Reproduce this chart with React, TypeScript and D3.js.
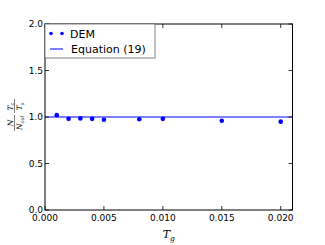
import React from "react";
import * as d3 from "d3";

const xValues = [0.001, 0.002, 0.003, 0.004, 0.005, 0.008, 0.01, 0.015, 0.02];
const demValues = [1.02, 0.98, 0.985, 0.98, 0.97, 0.975, 0.98, 0.96, 0.95];
const equationValue = 1.0;
const xTicks = [0, 0.005, 0.01, 0.015, 0.02];
const yTicks = [0, 0.5, 1.0, 1.5, 2.0];
const legendLabels = ["DEM", "Equation (19)"];

export default function App() {
  const W = 325, H = 245;
  const left = 45, right = 292.5, top = 24, bottom = 210;
  const x = d3.scaleLinear().domain([0, 0.021]).range([left, right]);
  const y = d3.scaleLinear().domain([0, 2]).range([bottom, top]);
  const blue = "#0000ff";
  const font = "DejaVu Sans, sans-serif";
  const line = d3.line<number>().x((d) => x(d)).y(() => y(equationValue));
  return (
    <svg width={W} height={H} style={{ position: "absolute", left: 0, top: 0, background: "#fff" }}>
      <rect x={0} y={0} width={W} height={H} fill="#fff" />
      <path d={line([0, 0.021]) || ""} stroke={blue} strokeWidth={1} fill="none" />
      {xValues.map((v, i) => (
        <circle key={i} cx={x(v)} cy={y(demValues[i])} r={2.3} fill={blue} />
      ))}
      <rect x={left} y={top} width={right - left} height={bottom - top} fill="none" stroke="#000" strokeWidth={1} />
      {xTicks.map((t, i) => (
        <g key={"x" + i}>
          <line x1={x(t)} x2={x(t)} y1={bottom} y2={bottom - 4} stroke="#000" strokeWidth={0.8} />
          <line x1={x(t)} x2={x(t)} y1={top} y2={top + 4} stroke="#000" strokeWidth={0.8} />
          <text x={x(t)} y={bottom + 11} fontSize={9} fontFamily={font} textAnchor="middle">
            {d3.format(".3f")(t)}
          </text>
        </g>
      ))}
      {yTicks.map((t, i) => (
        <g key={"y" + i}>
          <line x1={left} x2={left + 4} y1={y(t)} y2={y(t)} stroke="#000" strokeWidth={0.8} />
          <line x1={right} x2={right - 4} y1={y(t)} y2={y(t)} stroke="#000" strokeWidth={0.8} />
          <text x={left - 2} y={y(t) + 3} fontSize={9} fontFamily={font} textAnchor="end">
            {d3.format(".1f")(t)}
          </text>
        </g>
      ))}
      <text x={x(0.0105)} y={238} fontSize={11} fontFamily="DejaVu Serif, serif" fontStyle="italic" textAnchor="middle">
        T<tspan fontSize={7.5} dy={2.5}>g</tspan>
      </text>
      <g transform={`translate(14.5, 115) rotate(-90)`} fontFamily="DejaVu Serif, serif" fontStyle="italic">
        <text x={-8} y={-2} fontSize={7.5} textAnchor="middle">N</text>
        <text x={-8} y={7.5} fontSize={7.5} textAnchor="middle">
          N<tspan fontSize={5} dy={1.5}>col</tspan>
        </text>
        <line x1={-16} x2={0} y1={0} y2={0} stroke="#000" strokeWidth={0.5} />
        <text x={8.5} y={-2} fontSize={7.5} textAnchor="middle">
          T<tspan fontSize={5} dy={1.5}>c</tspan>
        </text>
        <text x={8.5} y={7.5} fontSize={7.5} textAnchor="middle">
          T<tspan fontSize={5} dy={1.5}>s</tspan>
        </text>
        <line x1={2} x2={16} y1={0} y2={0} stroke="#000" strokeWidth={0.5} />
      </g>
      <g>
        <rect x={left} y={top} width={110} height={34} fill="#fff" stroke="#666" strokeWidth={0.8} />
        <circle cx={51} cy={33.5} r={1.8} fill={blue} />
        <circle cx={62} cy={33.5} r={1.8} fill={blue} />
        <text x={70} y={37.5} fontSize={11} fontFamily={font}>{legendLabels[0]}</text>
        <line x1={50} x2={63} y1={49} y2={49} stroke={blue} strokeWidth={1} />
        <text x={71} y={53} fontSize={11} fontFamily={font}>{legendLabels[1]}</text>
      </g>
    </svg>
  );
}
